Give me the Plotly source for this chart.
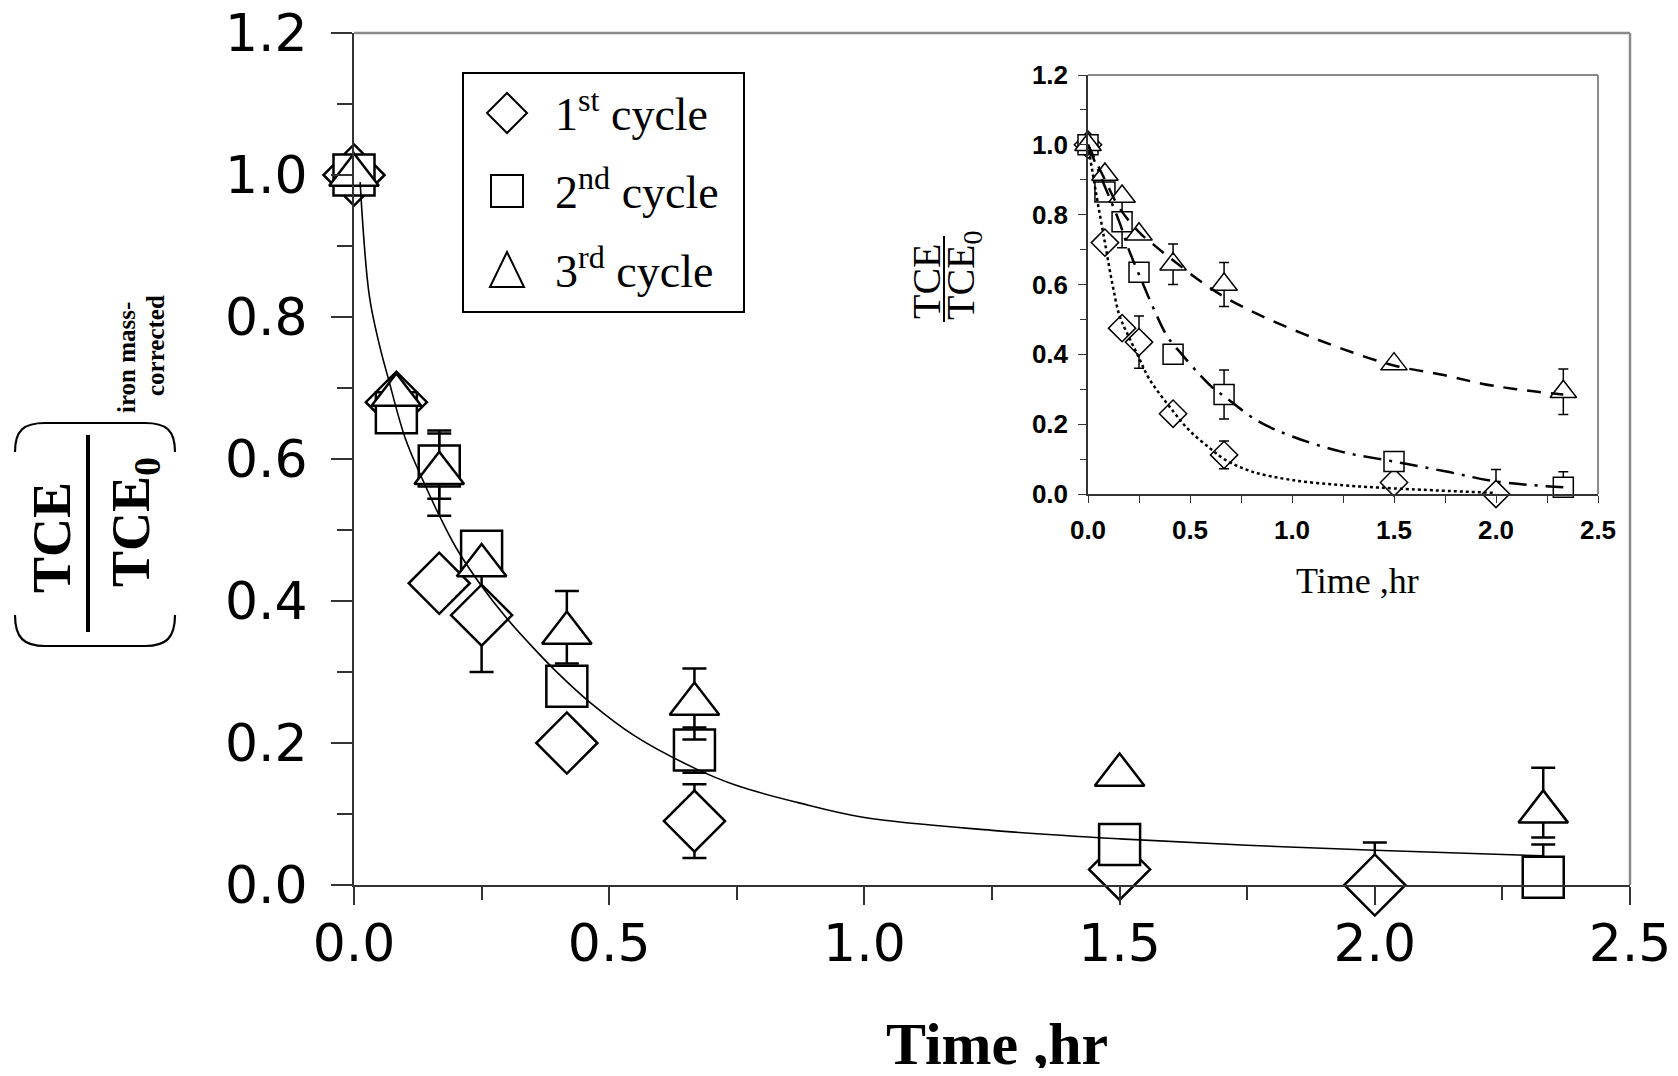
import plotly.graph_objects as go

# ---------------- main chart data ----------------
c1_t = [0.0, 0.083, 0.167, 0.25, 0.417, 0.667, 1.5, 2.0]
c1_y = [1.0, 0.68, 0.425, 0.38, 0.20, 0.09, 0.022, 0.0]
c1_err = [0, 0, 0, 0.08, 0, 0.052, 0, 0.06]

c2_t = [0.0, 0.083, 0.167, 0.25, 0.417, 0.667, 1.5, 2.33]
c2_y = [1.0, 0.665, 0.59, 0.47, 0.28, 0.19, 0.057, 0.011]
c2_err = [0, 0, 0.046, 0, 0, 0.032, 0, 0.046]

c3_t = [0.0, 0.083, 0.167, 0.25, 0.417, 0.667, 1.5, 2.33]
c3_y = [1.0, 0.69, 0.58, 0.45, 0.355, 0.255, 0.155, 0.103]
c3_err_plus = [0, 0, 0.06, 0, 0.059, 0.05, 0, 0.062]
c3_err_minus = [0, 0, 0.06, 0, 0.043, 0.05, 0, 0.036]

fit_t = [0.012, 0.03, 0.05, 0.067, 0.1, 0.135, 0.168, 0.2, 0.248, 0.3, 0.35, 0.4,
         0.461, 0.55, 0.666, 0.75, 0.87, 1.0, 1.25, 1.5, 1.75, 2.0, 2.33]
fit_y = [0.99, 0.83, 0.76, 0.714, 0.63, 0.57, 0.519, 0.475, 0.423, 0.375, 0.335, 0.298,
         0.258, 0.21, 0.165, 0.14, 0.116, 0.095, 0.077, 0.065, 0.056, 0.049, 0.041]

# ---------------- inset data ----------------
i1_t = [0.0, 0.083, 0.167, 0.25, 0.417, 0.667, 1.5, 2.0]
i1_y = [1.0, 0.72, 0.475, 0.435, 0.23, 0.112, 0.033, 0.0]
i1_err = [0, 0, 0, 0.075, 0, 0.04, 0, 0.07]

i2_t = [0.0, 0.083, 0.167, 0.25, 0.417, 0.667, 1.5, 2.33]
i2_y = [1.0, 0.865, 0.78, 0.635, 0.40, 0.285, 0.093, 0.019]
i2_err = [0, 0, 0.075, 0, 0, 0.07, 0, 0.045]

i3_t = [0.0, 0.083, 0.167, 0.25, 0.417, 0.667, 1.5, 2.33]
i3_y = [1.0, 0.915, 0.852, 0.744, 0.658, 0.6, 0.372, 0.293]
i3_err = [0, 0, 0, 0, 0.058, 0.063, 0, 0.065]

f1_t = [0, 0.04, 0.083, 0.12, 0.155, 0.2, 0.25, 0.3, 0.42, 0.5, 0.6, 0.667, 0.8, 1.0, 1.25, 1.5, 2.0]
f1_y = [1.0, 0.86, 0.72, 0.6, 0.51, 0.45, 0.39, 0.33, 0.235, 0.18, 0.13, 0.1, 0.065, 0.04, 0.025, 0.016, 0.003]

f2_t = [0, 0.083, 0.153, 0.2, 0.26, 0.33, 0.39, 0.46, 0.55, 0.61, 0.667, 0.83, 1.0, 1.25, 1.5, 1.75, 2.0, 2.33]
f2_y = [1.0, 0.88, 0.78, 0.7, 0.615, 0.52, 0.45, 0.4, 0.34, 0.305, 0.28, 0.21, 0.165, 0.12, 0.093, 0.065, 0.036, 0.019]

f3_t = [0, 0.083, 0.153, 0.25, 0.33, 0.42, 0.55, 0.667, 0.85, 1.05, 1.25, 1.5, 1.75, 1.93, 2.1, 2.33]
f3_y = [1.0, 0.9, 0.82, 0.75, 0.71, 0.668, 0.61, 0.565, 0.51, 0.46, 0.415, 0.368, 0.34, 0.316, 0.3, 0.285]

legend_labels = ["1<sup>st</sup> cycle", "2<sup>nd</sup> cycle", "3<sup>rd</sup> cycle"]

# ---------------- layout geometry ----------------
# reference-picture pixel positions; the page body adds an 8px offset
OFF = 8
W, H = 1678 - 2 * OFF, 1076 - 2 * OFF
L, R, T, B = 354, 1630, 33, 885   # plot area in reference pixels


def px(x):
    return (x - L) / (R - L)


def py(y):
    return (B - y) / (B - T)


SERIF = "Liberation Serif, Times New Roman, serif"
SANS = "Liberation Sans, Arial, sans-serif"
WIDE = "DejaVu Sans, Liberation Sans, sans-serif"

fig = go.Figure()

mk_line = dict(color="black", width=2.5)


def err(arr, minus=None):
    d = dict(type="data", array=arr, visible=True, color="black", thickness=2.5, width=12)
    if minus is not None:
        d["arrayminus"] = minus
        d["symmetric"] = False
    return d


fig.add_trace(go.Scatter(x=c1_t, y=c1_y, mode="markers", error_y=err(c1_err), cliponaxis=False,
                         marker=dict(symbol="diamond", size=47, color="white", line=mk_line),
                         showlegend=False))
fig.add_trace(go.Scatter(x=c2_t, y=c2_y, mode="markers", error_y=err(c2_err), cliponaxis=False,
                         marker=dict(symbol="square", size=41, color="white", line=mk_line),
                         showlegend=False))
fig.add_trace(go.Scatter(x=c3_t, y=c3_y, mode="markers", error_y=err(c3_err_plus, c3_err_minus),
                         cliponaxis=False,
                         marker=dict(symbol="triangle-up", size=43, color="white", line=mk_line),
                         showlegend=False))
fig.add_trace(go.Scatter(x=fit_t, y=fit_y, mode="lines", line=dict(color="black", width=1.6, shape="spline"),
                         cliponaxis=False, showlegend=False))

# inset
imk = dict(color="black", width=1.5)


def ierr(arr):
    return dict(type="data", array=arr, visible=True, color="black", thickness=1.5, width=5)


fig.add_trace(go.Scatter(x=i1_t, y=i1_y, mode="markers", xaxis="x2", yaxis="y2", error_y=ierr(i1_err),
                         cliponaxis=False,
                         marker=dict(symbol="diamond", size=21, color="white", line=imk), showlegend=False))
fig.add_trace(go.Scatter(x=i2_t, y=i2_y, mode="markers", xaxis="x2", yaxis="y2", error_y=ierr(i2_err),
                         cliponaxis=False,
                         marker=dict(symbol="square", size=20, color="white", line=imk), showlegend=False))
fig.add_trace(go.Scatter(x=i3_t, y=i3_y, mode="markers", xaxis="x2", yaxis="y2", error_y=ierr(i3_err),
                         cliponaxis=False,
                         marker=dict(symbol="triangle-up", size=23, color="white", line=imk), showlegend=False))
fig.add_trace(go.Scatter(x=f1_t, y=f1_y, mode="lines", xaxis="x2", yaxis="y2", cliponaxis=False,
                         line=dict(color="black", width=2.5, dash="dot", shape="spline"), showlegend=False))
fig.add_trace(go.Scatter(x=f2_t, y=f2_y, mode="lines", xaxis="x2", yaxis="y2", cliponaxis=False,
                         line=dict(color="black", width=2.5, dash="18px,8px,3px,8px", shape="spline"),
                         showlegend=False))
fig.add_trace(go.Scatter(x=f3_t, y=f3_y, mode="lines", xaxis="x2", yaxis="y2", cliponaxis=False,
                         line=dict(color="black", width=2.5, dash="14px,10px", shape="spline"),
                         showlegend=False))

axis_common = dict(showgrid=False, zeroline=False, showline=True, linecolor="#333", ticks="outside",
                   tickcolor="#333", tickformat=".1f", automargin=False, ticklabeloverflow="allow")

fig.update_layout(
    width=W, height=H,
    margin=dict(l=L - OFF, r=W - (R - OFF), t=T - OFF, b=H - (B - OFF), autoexpand=False),
    plot_bgcolor="white", paper_bgcolor="white",
    showlegend=False,
    xaxis=dict(**axis_common, range=[0, 2.5], dtick=0.5, tick0=0, linewidth=2, ticklen=18, tickwidth=1.5,
               tickfont=dict(family=WIDE, size=52, color="black"), ticklabelstandoff=-6,
               minor=dict(dtick=0.25, ticks="outside", ticklen=13, tickwidth=1.5, tickcolor="#333")),
    yaxis=dict(**axis_common, range=[0, 1.2], dtick=0.2, tick0=0, linewidth=2, ticklen=21, tickwidth=1.5,
               tickfont=dict(family=WIDE, size=52, color="black"), ticklabelstandoff=13,
               minor=dict(dtick=0.1, ticks="outside", ticklen=15, tickwidth=1.5, tickcolor="#333")),
    xaxis2=dict(**axis_common, domain=[px(1088), px(1598)], anchor="y2", range=[0, 2.5], dtick=0.5, tick0=0,
                linewidth=1.5, ticklen=7, tickwidth=1.2,
                tickfont=dict(family=SANS, size=26, color="black", weight="bold"), ticklabelstandoff=5,
                minor=dict(dtick=0.25, ticks="outside", ticklen=7, tickwidth=1.2, tickcolor="#333")),
    yaxis2=dict(**axis_common, domain=[py(494), py(75)], anchor="x2", range=[0, 1.2], dtick=0.2, tick0=0,
                linewidth=1.5, ticklen=8, tickwidth=1.2,
                tickfont=dict(family=SANS, size=26, color="black", weight="bold"), ticklabelstandoff=5,
                minor=dict(dtick=0.1, ticks="outside", ticklen=6, tickwidth=1.2, tickcolor="#333")),
)

shapes = []
# gray frame lines (top / right) main and inset
shapes.append(dict(type="line", xref="paper", yref="paper", x0=0, x1=1, y0=1, y1=1,
                   line=dict(color="#8a8a8a", width=2.5)))
shapes.append(dict(type="line", xref="paper", yref="paper", x0=1, x1=1, y0=0, y1=1,
                   line=dict(color="#8a8a8a", width=2.5)))
shapes.append(dict(type="line", xref="x2 domain", yref="y2 domain", x0=0, x1=1, y0=1, y1=1,
                   line=dict(color="#8a8a8a", width=2)))
shapes.append(dict(type="line", xref="x2 domain", yref="y2 domain", x0=1, x1=1, y0=0, y1=1,
                   line=dict(color="#8a8a8a", width=2)))


def path(points_cmds):
    out = []
    for cmd, pts in points_cmds:
        coords = " ".join(f"{px(a):.5f},{py(b):.5f}" for a, b in pts)
        out.append(f"{cmd} {coords}")
    return " ".join(out)


# big parentheses around the rotated y-axis fraction
shapes.append(dict(type="path", xref="paper", yref="paper", line=dict(color="black", width=2.2),
                   path=path([("M", [(15, 452)]), ("C", [(15, 430), (24, 423), (45, 423)]),
                              ("L", [(145, 423)]), ("C", [(166, 423), (175, 430), (175, 452)])])))
shapes.append(dict(type="path", xref="paper", yref="paper", line=dict(color="black", width=2.2),
                   path=path([("M", [(15, 615)]), ("C", [(15, 638), (24, 646), (45, 646)]),
                              ("L", [(145, 646)]), ("C", [(166, 646), (175, 638), (175, 615)])])))
# fraction bars
shapes.append(dict(type="line", xref="paper", yref="paper", x0=px(88), x1=px(88), y0=py(435), y1=py(632),
                   line=dict(color="black", width=4)))
shapes.append(dict(type="line", xref="paper", yref="paper", x0=px(944), x1=px(944), y0=py(236), y1=py(322),
                   line=dict(color="black", width=2)))

# legend box and symbols
shapes.append(dict(type="rect", xref="paper", yref="paper", x0=px(463), x1=px(744), y0=py(73), y1=py(312),
                   line=dict(color="black", width=2), fillcolor="white", layer="below"))
lx = 507
rows = [113, 191, 270]
shapes.append(dict(type="path", xref="paper", yref="paper", line=dict(color="black", width=2),
                   path=path([("M", [(lx - 20, rows[0])]), ("L", [(lx, rows[0] - 20)]), ("L", [(lx + 20, rows[0])]),
                              ("L", [(lx, rows[0] + 20)])]) + " Z"))
shapes.append(dict(type="rect", xref="paper", yref="paper", x0=px(lx - 16), x1=px(lx + 16),
                   y0=py(rows[1] - 16), y1=py(rows[1] + 16), line=dict(color="black", width=2)))
shapes.append(dict(type="path", xref="paper", yref="paper", line=dict(color="black", width=2),
                   path=path([("M", [(lx - 17, rows[2] + 17)]), ("L", [(lx, rows[2] - 18)]),
                              ("L", [(lx + 17, rows[2] + 17)])]) + " Z"))

annotations = []


def ann(x, y, text, size, angle=0, xanchor="center", bold=False):
    return dict(xref="paper", yref="paper", x=px(x), y=py(y), xanchor=xanchor, yanchor="middle",
                text=f"<b>{text}</b>" if bold else text, textangle=angle, showarrow=False,
                font=dict(family=SERIF, size=size, color="black"))


for lab, ry in zip(legend_labels, rows):
    annotations.append(ann(553, ry - 2, lab, 46, xanchor="left"))

# main x title
annotations.append(ann(997, 1044, "Time ,hr", 60, bold=True))
# main y title pieces
annotations.append(ann(52, 538, "TCE", 54, angle=-90, bold=True))
annotations.append(ann(134, 522, "TCE<sub>0</sub>", 54, angle=-90, bold=True))
annotations.append(ann(126, 358, "iron mass-", 25, angle=-90, bold=True))
annotations.append(ann(155, 346, "corrected", 25, angle=-90, bold=True))
# inset titles
annotations.append(ann(1357, 581, "Time ,hr", 36))
annotations.append(ann(926, 281, "TCE", 40, angle=-90))
annotations.append(ann(963, 275, "TCE<sub>0</sub>", 40, angle=-90))

fig.update_layout(shapes=shapes, annotations=annotations)

fig.write_html("out.html")
